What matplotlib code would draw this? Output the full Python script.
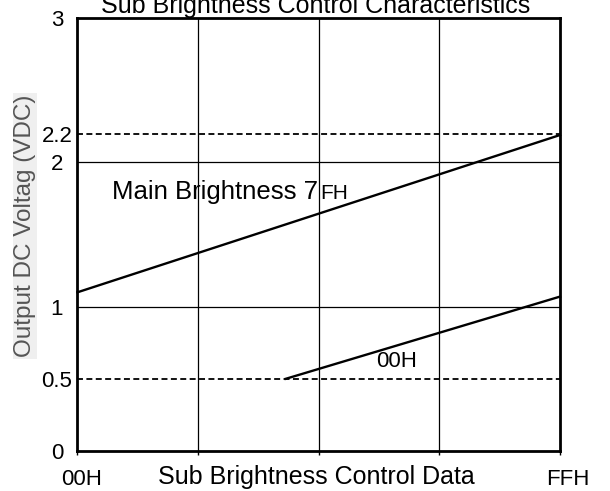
import matplotlib
matplotlib.use("Agg")
import matplotlib.pyplot as plt
from matplotlib.transforms import ScaledTranslation

plt.rcParams['font.family'] = ['Liberation Sans', 'DejaVu Sans']

# data (sub brightness code 0..255 -> output volts)
main_x = [0, 255]
main_y = [1.1, 2.19]
low_x = [110, 255]
low_y = [0.5, 1.07]
limit_levels = [0.5, 2.2]
grid_levels = [1, 2]
xtick_pos = [0, 63.75, 127.5, 191.25, 255]
xtick_labels = ['00H', '', '', '', 'FFH']
ytick_pos = [0, 0.5, 1, 2, 2.2, 3]
ytick_labels = ['0', '0.5', '1', '2', '2.2', '3']

fig = plt.figure(figsize=(6.1, 4.91), dpi=100)
ax = fig.add_axes([0.127, 0.0815, 0.791, 0.8815])
ax.set_xlim(0, 255)
ax.set_ylim(0, 3)

# grid
for x in xtick_pos[1:-1]:
    ax.axvline(x, color='black', lw=0.9, zorder=1)
for y in grid_levels:
    ax.axhline(y, color='black', lw=0.9, zorder=1)
for y in limit_levels:
    ax.axhline(y, color='black', lw=1.3, linestyle=(0, (3.3, 1.9)), zorder=1)

ax.plot(main_x, main_y, color='black', lw=1.7, zorder=3, clip_on=False)
ax.plot(low_x, low_y, color='black', lw=1.7, zorder=3, clip_on=False)

ax.text(18.2, 1.746, 'Main Brightness 7', fontsize=18.5, va='baseline')
ax.annotate('FH', xy=(18.2, 1.746), xytext=(150, 0), textcoords='offset points',
            fontsize=15, va='baseline')
ax.text(157.8, 0.584, '00H', fontsize=16, va='baseline')

for s in ax.spines.values():
    s.set_linewidth(2)

ax.set_xticks(xtick_pos)
ax.set_xticklabels(xtick_labels, fontsize=16)
ax.set_yticks(ytick_pos)
ax.set_yticklabels(ytick_labels, fontsize=16)
ax.tick_params(axis='x', direction='out', length=3, width=1, pad=10)
ax.tick_params(axis='y', length=0, pad=14.8)
for lab in ax.get_yticklabels():
    lab.set_horizontalalignment('center')
for lab, dx in zip(ax.get_xticklabels(), [4.5, 0, 0, 0, 8]):
    lab.set_transform(lab.get_transform() + ScaledTranslation(dx / 100, 0, fig.dpi_scale_trans))

ax.set_xlabel('Sub Brightness Control Data', fontsize=18, va='baseline')
ax.xaxis.set_label_coords(0.496, -0.0762)
ax.set_ylabel('Output DC Voltag (VDC)', fontsize=17.5, color='#555555',
              va='center', ha='center',
              bbox=dict(facecolor='#efefef', edgecolor='none', pad=1))
ax.yaxis.set_label_coords(-0.1088, 0.52)

fig.text(0.518, 0.9735, 'Sub Brightness Control Characteristics',
         fontsize=18, ha='center', va='baseline')

fig.savefig('out.png', dpi=100)
